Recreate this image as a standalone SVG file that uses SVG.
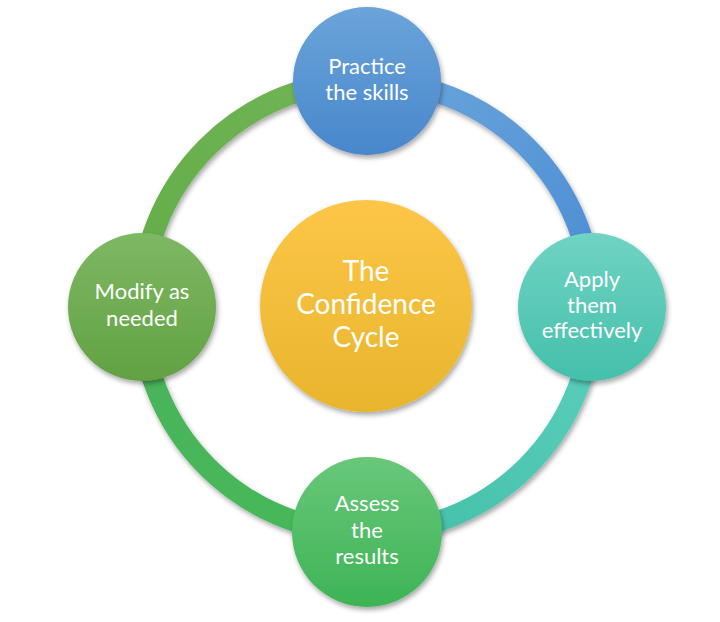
<svg xmlns="http://www.w3.org/2000/svg" width="720" height="622" viewBox="0 0 720 622">
<defs>
<style>
.lbl{font-family:Lato,"Open Sans","Liberation Sans",sans-serif;fill:#ffffff;text-anchor:middle;font-size:22px}
.big{font-size:28px}
.ring{fill:none;stroke-width:21}
</style>
<filter id="sh" x="-20%" y="-20%" width="140%" height="140%">
<feDropShadow dx="1.5" dy="3" stdDeviation="2.5" flood-color="#000" flood-opacity="0.35"/>
</filter>
<linearGradient id="gBlue" x1="0" y1="0" x2="0" y2="1"><stop offset="0" stop-color="#6ba4da"/><stop offset="1" stop-color="#4887cb"/></linearGradient>
<linearGradient id="gTeal" x1="0" y1="0" x2="0" y2="1"><stop offset="0" stop-color="#70d3c3"/><stop offset="1" stop-color="#44c0ab"/></linearGradient>
<linearGradient id="gGreen" x1="0" y1="0" x2="0" y2="1"><stop offset="0" stop-color="#69c77a"/><stop offset="1" stop-color="#3db455"/></linearGradient>
<linearGradient id="gLeaf" x1="0" y1="0" x2="0" y2="1"><stop offset="0" stop-color="#7db863"/><stop offset="1" stop-color="#62a143"/></linearGradient>
<linearGradient id="gYellow" x1="0" y1="0" x2="0" y2="1"><stop offset="0" stop-color="#fdc648"/><stop offset="1" stop-color="#e8b52c"/></linearGradient>
<linearGradient id="aTR" gradientUnits="userSpaceOnUse" x1="367" y1="81" x2="593" y2="307"><stop offset="0" stop-color="#6ba6dc"/><stop offset="1" stop-color="#4a8cd3"/></linearGradient>
<linearGradient id="aRB" gradientUnits="userSpaceOnUse" x1="593" y1="307" x2="367" y2="533"><stop offset="0" stop-color="#5bd0bd"/><stop offset="1" stop-color="#44bfa8"/></linearGradient>
<linearGradient id="aBL" gradientUnits="userSpaceOnUse" x1="367" y1="533" x2="141" y2="307"><stop offset="0" stop-color="#44b95a"/><stop offset="1" stop-color="#4cb35a"/></linearGradient>
<linearGradient id="aLT" gradientUnits="userSpaceOnUse" x1="141" y1="307" x2="367" y2="81"><stop offset="0" stop-color="#62ad49"/><stop offset="1" stop-color="#72b455"/></linearGradient>
</defs>
<rect width="720" height="622" fill="#ffffff"/>
<g id="connectors" filter="url(#sh)">
<path class="ring" stroke="url(#aTR)" d="M367,81 A226,226 0 0 1 593,307"/>
<path class="ring" stroke="url(#aRB)" d="M593,307 A226,226 0 0 1 367,533"/>
<path class="ring" stroke="url(#aBL)" d="M367,533 A226,226 0 0 1 141,307"/>
<path class="ring" stroke="url(#aLT)" d="M141,307 A226,226 0 0 1 367,81"/>
</g>
<g id="center">
<circle cx="366" cy="306" r="106" fill="url(#gYellow)" filter="url(#sh)"/>
<text class="lbl big" x="366" y="281">The</text>
<text class="lbl big" x="366" y="314">Confidence</text>
<text class="lbl big" x="366" y="347">Cycle</text>
</g>
<g id="practice">
<circle cx="367" cy="81" r="74" fill="url(#gBlue)" filter="url(#sh)"/>
<text class="lbl" x="367" y="74">Practice</text>
<text class="lbl" x="367" y="100">the skills</text>
</g>
<g id="apply">
<circle cx="592" cy="307" r="74" fill="url(#gTeal)" filter="url(#sh)"/>
<text class="lbl" x="592" y="287">Apply</text>
<text class="lbl" x="592" y="313">them</text>
<text class="lbl" x="592" y="338">effectively</text>
</g>
<g id="assess">
<circle cx="367" cy="532" r="75" fill="url(#gGreen)" filter="url(#sh)"/>
<text class="lbl" x="367" y="511">Assess</text>
<text class="lbl" x="367" y="538">the</text>
<text class="lbl" x="367" y="564">results</text>
</g>
<g id="modify">
<circle cx="142" cy="307" r="74" fill="url(#gLeaf)" filter="url(#sh)"/>
<text class="lbl" x="142" y="299">Modify as</text>
<text class="lbl" x="142" y="326">needed</text>
</g>
</svg>
